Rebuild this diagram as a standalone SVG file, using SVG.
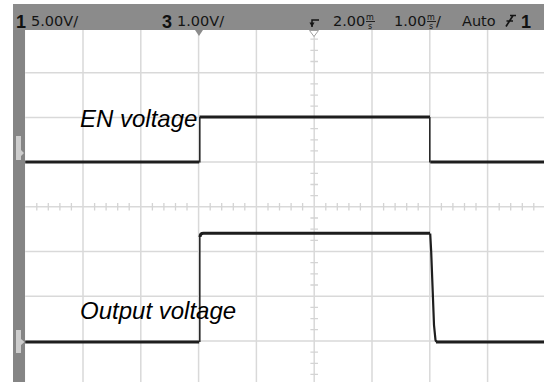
<svg xmlns="http://www.w3.org/2000/svg" width="551" height="382" viewBox="0 0 551 382">
<defs>
<style>
.grid{stroke:#d9d9d9;stroke-width:1.5;fill:none}
.tick{stroke:#d4d4d4;stroke-width:1.3;fill:none}
.trace{stroke:#1e1e1e;stroke-width:3;fill:none}
.edge{stroke:#2a2a2a;stroke-width:1.6;fill:none}
.hdr{font-family:"DejaVu Sans","Liberation Sans",sans-serif;font-size:14.5px;fill:#141414}
.ch{font-family:"Liberation Sans",sans-serif;font-size:18px;font-weight:bold;fill:#111}
.lbl{font-family:"Liberation Sans",Arial,sans-serif;font-style:italic;font-size:24px;fill:#000}
.sm{font-family:"DejaVu Sans",sans-serif;font-size:8px;fill:#141414}
</style>
</defs>
<rect width="551" height="382" fill="#fff"/>
<g id="frame">
<rect x="13" y="4" width="531" height="26" fill="#8b8b8b"/>
<rect x="13" y="30" width="12.2" height="352" fill="#858585"/>
<rect x="25.2" y="30" width="518.8" height="352" fill="#fff"/>
</g>
<g id="grid">
<path class="grid" d="M83,30V382M140.8,30V382M198.6,30V382M256.4,30V382M314.2,30V382M372,30V382M429.8,30V382M487.6,30V382"/>
<path class="grid" d="M25.2,72.7H544M25.2,117.4H544M25.2,162.1H544M25.2,206.8H544M25.2,251.5H544M25.2,296.2H544M25.2,340.9H544"/>
<path class="tick" d="M36.8,203V210.6M48.3,203V210.6M59.9,203V210.6M71.4,203V210.6M94.6,203V210.6M106.1,203V210.6M117.7,203V210.6M129.2,203V210.6M152.4,203V210.6M163.9,203V210.6M175.5,203V210.6M187,203V210.6M210.2,203V210.6M221.7,203V210.6M233.3,203V210.6M244.8,203V210.6M268,203V210.6M279.5,203V210.6M291.1,203V210.6M302.6,203V210.6M325.8,203V210.6M337.3,203V210.6M348.9,203V210.6M360.4,203V210.6M383.6,203V210.6M395.1,203V210.6M406.7,203V210.6M418.2,203V210.6M441.4,203V210.6M452.9,203V210.6M464.5,203V210.6M476,203V210.6M499.2,203V210.6M510.7,203V210.6M522.3,203V210.6M533.8,203V210.6"/>
<path class="tick" d="M310.4,39.2H318M310.4,50.4H318M310.4,61.5H318M310.4,83.9H318M310.4,95.1H318M310.4,106.2H318M310.4,128.6H318M310.4,139.8H318M310.4,150.9H318M310.4,173.3H318M310.4,184.5H318M310.4,195.6H318M310.4,218H318M310.4,229.2H318M310.4,240.3H318M310.4,262.7H318M310.4,273.9H318M310.4,285H318M310.4,307.4H318M310.4,318.6H318M310.4,329.7H318M310.4,352.1H318M310.4,363.3H318M310.4,374.4H318"/>
</g>
<g id="header">
<text class="ch" x="16" y="27.5">1</text>
<text class="hdr" x="31" y="26">5.00V/</text>
<text class="ch" x="162" y="27.5">3</text>
<text class="hdr" x="177" y="26">1.00V/</text>
<path d="M312,27V20H319" stroke="#141414" stroke-width="1.5" fill="none"/>
<path d="M309.5,22.5L312,27L314.5,22.5Z" fill="#141414"/>
<text class="hdr" x="333" y="26">2.00</text>
<text class="sm" x="366" y="19.5">m</text>
<path d="M366,21.5H375" stroke="#141414" stroke-width="0.9"/>
<text class="sm" x="368" y="28.5">s</text>
<text class="hdr" x="394" y="26">1.00</text>
<text class="sm" x="427" y="19.5">m</text>
<path d="M427,21.5H436" stroke="#141414" stroke-width="0.9"/>
<text class="sm" x="429" y="28.5">s</text>
<text class="hdr" x="436" y="26">/</text>
<text class="hdr" x="462" y="26">Auto</text>
<path d="M506,26.5L513,15.5M510,15.5H516M506.5,21H513" stroke="#141414" stroke-width="1.7" fill="none"/>
<text class="ch" x="521" y="27.5">1</text>
</g>
<g id="markers">
<path d="M195,30H203L199,36Z" fill="#8b8b8b"/>
<path d="M309.5,30.5H318.5L314,36.5Z" fill="#fff" stroke="#a0a0a0" stroke-width="1"/>
<path d="M16,136H21V150L24,153L21,156V160H16Z" fill="#e6e6e6" opacity="0.75"/>
<path d="M16,330H21V339L24.5,342L21,345V353H16Z" fill="#e6e6e6" opacity="0.75"/>
</g>
<g id="connectors">
<path class="trace" d="M25.2,162H199.2"/>
<path class="edge" d="M199.8,162.5V117"/>
<path class="trace" d="M199.5,117H430"/>
<path class="edge" d="M429.8,117V162.5"/>
<path class="trace" d="M430.3,162H544"/>
<path class="trace" d="M25.2,342H199.2"/>
<path class="edge" d="M199.8,342V236"/>
<path class="trace" d="M200,237Q200,233.3 203.5,233.3H430"/>
<path class="trace" style="stroke-width:2.2" d="M430.2,233.5L431.2,252L434,325L435.5,340Q436,342 438,342"/>
<path class="trace" d="M436,342H544"/>
</g>
<g id="label-en"><text class="lbl" x="80" y="127">EN voltage</text></g>
<g id="label-out"><text class="lbl" x="80" y="319">Output voltage</text></g>
</svg>
